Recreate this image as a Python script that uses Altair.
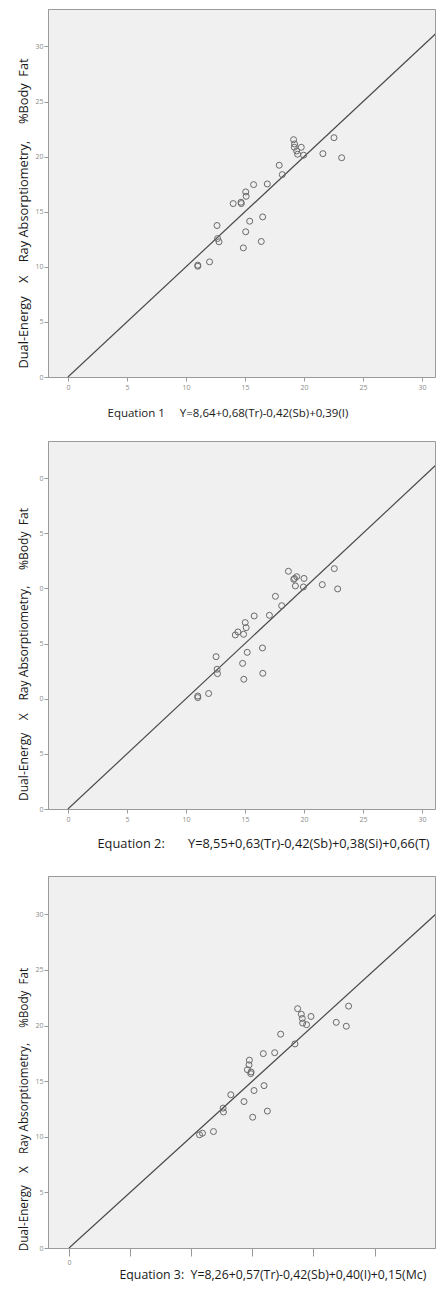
import altair as alt
import pandas as pd

# ---- data ----
eq1_x = [11.0, 11.0, 12.0, 12.63, 12.68, 12.8, 14.0, 14.66, 14.69, 15.06, 15.1, 15.73, 16.89,
         14.86, 15.06, 15.4, 16.5, 16.38, 17.9, 18.16, 19.12, 19.2, 19.18, 19.38, 19.46, 19.77,
         19.97, 21.6, 22.54, 23.19]
eq1_y = [10.15, 10.05, 10.45, 13.75, 12.57, 12.27, 15.74, 15.86, 15.74, 16.8, 16.4, 17.46, 17.52,
         11.72, 13.18, 14.14, 14.53, 12.3, 19.22, 18.37, 21.54, 21.15, 20.85, 20.52, 20.22, 20.85,
         20.13, 20.27, 21.72, 19.9]

eq2_x = [11.0, 11.0, 11.92, 12.55, 12.64, 12.67, 14.18, 14.4, 14.88, 15.02, 15.1, 15.78, 17.07,
         14.8, 15.19, 16.48, 14.9, 16.51, 17.58, 18.11, 18.68, 19.13, 19.38, 19.27, 20.0, 19.95,
         21.55, 22.57, 22.85, 19.2]
eq2_y = [10.24, 10.1, 10.47, 13.81, 12.67, 12.27, 15.78, 16.05, 15.84, 16.9, 16.44, 17.5, 17.56,
         13.2, 14.2, 14.6, 11.76, 12.3, 19.28, 18.43, 21.55, 20.82, 21.06, 20.22, 20.9, 20.13,
         20.34, 21.79, 19.95, 20.9]

eq3_x = [10.68, 10.92, 11.82, 13.24, 12.61, 12.64, 14.6, 14.76, 14.73, 14.87, 14.9, 15.9, 16.83,
         14.32, 15.14, 15.96, 15.03, 16.23, 17.32, 18.49, 18.71, 19.01, 19.09, 19.12, 19.44, 19.8,
         21.87, 22.88, 22.69]
eq3_y = [10.18, 10.32, 10.47, 13.78, 12.58, 12.23, 16.03, 16.89, 16.47, 15.68, 15.83, 17.48, 17.56,
         13.17, 14.16, 14.6, 11.76, 12.31, 19.23, 18.35, 21.52, 21.02, 20.64, 20.23, 20.08, 20.82,
         20.29, 21.75, 19.94]

# identity (reference) line
ref_x = [0, 34]
ref_y = [0, 34]

tick_values = [0, 5, 10, 15, 20, 25, 30]

NB = "\u00a0"
y_title = f"Dual-Energy{NB*4}X{NB*4}Ray{NB}Absorptiometry,{NB*5}%Body{NB*2}Fat"
t1 = f"Equation 1{NB*5}Y=8,64+0,68(Tr)-0,42(Sb)+0,39(I)"
t2 = f"Equation 2:{NB*7}Y=8,55+0,63(Tr)-0,42(Sb)+0,38(Si)+0,66(T)"
t3 = f"Equation 3:{NB*2}Y=8,26+0,57(Tr)-0,42(Sb)+0,40(I)+0,15(Mc)"

FONT = "Open Sans"
W = 387


def panel(xs, ys, xdom, ydom, h, xtitle, xt_size, xt_x, xt_y, yt_size, yt_y,
          x_label_expr=None, y_label_expr=None, x_tick=4):
    df = pd.DataFrame({"x": xs, "y": ys})
    line_df = pd.DataFrame({"x": ref_x, "y": ref_y})
    xaxis = dict(values=tick_values, grid=False, domainColor="#9a9a9a", tickColor="#9a9a9a",
                 tickSize=x_tick, labelFontSize=7, labelColor="#8a8a8a", labelPadding=2,
                 labelFont=FONT, title=xtitle, titleFont=FONT, titleFontSize=xt_size,
                 titleFontWeight="normal", titleColor="#1a1a1a", titleAlign="left",
                 titleBaseline="middle", titleX=xt_x, titleY=xt_y)
    if x_label_expr:
        xaxis["labelExpr"] = x_label_expr
    yaxis = dict(values=tick_values, grid=False, domainColor="#9a9a9a", tickColor="#9a9a9a",
                 tickSize=4, labelFontSize=7, labelColor="#8a8a8a", labelPadding=1,
                 labelFont=FONT, title=y_title, titleFont=FONT, titleFontSize=yt_size,
                 titleFontWeight="normal", titleColor="#1a1a1a", titleAngle=270,
                 titleAlign="center", titleBaseline="middle", titleX=-25, titleY=yt_y)
    if y_label_expr:
        yaxis["labelExpr"] = y_label_expr
    xs_ = alt.Scale(domain=xdom, nice=False, zero=False)
    ys_ = alt.Scale(domain=ydom, nice=False, zero=False)
    line = alt.Chart(line_df).mark_line(color="#4a4a4a", strokeWidth=1.2, clip=True).encode(
        x=alt.X("x:Q", scale=xs_, axis=alt.Axis(**xaxis)),
        y=alt.Y("y:Q", scale=ys_, axis=alt.Axis(**yaxis)),
    )
    pts = alt.Chart(df).mark_point(shape="circle", filled=False, size=36, color="#6a6a6a",
                                   strokeWidth=1, opacity=1).encode(
        x=alt.X("x:Q", scale=xs_),
        y=alt.Y("y:Q", scale=ys_),
    )
    return alt.layer(line, pts).properties(width=W, height=h)


p1 = panel(eq1_x, eq1_y, [-1.69, 31.1], [0, 33.4], 368, t1, 11.5, 59, 36, 12.8, 204)
p2 = panel(eq2_x, eq2_y, [-1.69, 31.1], [0, 33.36], 368, t2, 12.8, 49, 34, 12.1, 213,
           y_label_expr="datum.value % 10")
p3 = panel(eq3_x, eq3_y, [-1.72, 29.95], [0, 33.45], 372, t3, 12.3, 71, 26, 11.7, 233,
           x_label_expr="datum.value == 0 ? '0' : ''", x_tick=8)

top = alt.vconcat(p1, p2, spacing=21)
chart = alt.vconcat(top, p3, spacing=24).properties(
    padding={"left": 8, "top": 0, "right": 0, "bottom": 0},
    background="white",
).configure_view(
    fill="#f0f0f0", stroke="#9a9a9a", strokeWidth=1
)

chart.save("out.html", embed_options={"renderer": "svg", "actions": False})
